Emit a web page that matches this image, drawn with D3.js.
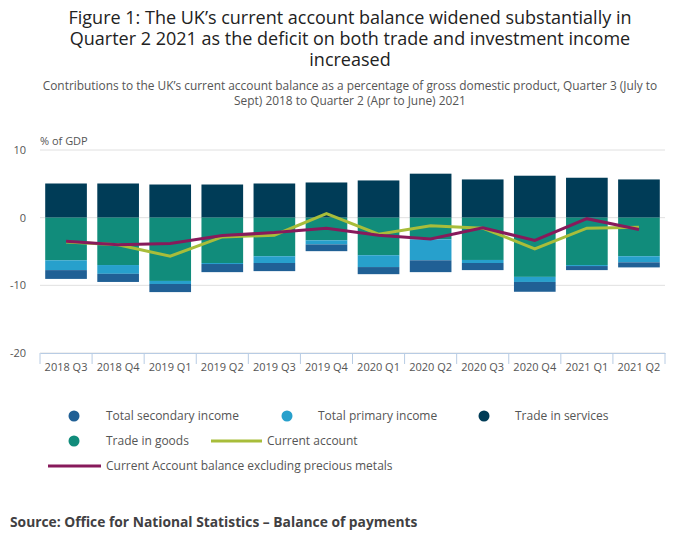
<!DOCTYPE html>
<html>
<head>
<meta charset="utf-8">
<script src="https://cdn.jsdelivr.net/npm/d3@7"></script>
<style>
  body { margin: 0; background: #fff; font-family: "Open Sans", sans-serif; }
</style>
</head>
<body>
<svg id="chart" width="700" height="549"></svg>
<script>
const quarters = ["2018 Q3", "2018 Q4", "2019 Q1", "2019 Q2", "2019 Q3", "2019 Q4",
  "2020 Q1", "2020 Q2", "2020 Q3", "2020 Q4", "2021 Q1", "2021 Q2"];
const tradeServices = [5.05, 5.05, 4.9, 4.9, 5.05, 5.2, 5.5, 6.5, 5.65, 6.2, 5.9, 5.65];
const tradeGoods = [-6.3, -7.0, -9.35, -6.7, -5.7, -3.35, -5.55, -3.2, -6.25, -8.75, -7.0, -5.7];
const primaryIncome = [-1.45, -1.3, -0.45, -0.15, -1.0, -0.6, -1.75, -3.1, -0.45, -0.75, -0.15, -0.9];
const secondaryIncome = [-1.3, -1.2, -1.2, -1.2, -1.2, -1.0, -1.05, -1.75, -1.05, -1.45, -0.6, -0.75];
const currentAccount = [-3.6, -4.0, -5.7, -2.85, -2.6, 0.6, -2.45, -1.2, -1.55, -4.6, -1.55, -1.4];
const exPrecious = [-3.5, -4.0, -3.8, -2.65, -2.2, -1.55, -2.6, -3.15, -1.5, -3.35, -0.15, -1.75];
const yTicks = [10, 0, -10, -20];

const svg = d3.select("#chart");
const margin = {left: 40, right: 35, top: 150, bottom: 196};
const width = 700 - margin.left - margin.right;
const height = 549 - margin.top - margin.bottom;

svg.append("text").attr("x", 350).attr("y", 24).attr("text-anchor", "middle")
  .attr("font-size", 18).attr("fill", "#222")
  .selectAll("tspan")
  .data(["Figure 1: The UK\u2019s current account balance widened substantially in",
    "Quarter 2 2021 as the deficit on both trade and investment income", "increased"])
  .join("tspan").attr("x", 350).attr("dy", (d, i) => i ? 21 : 0).text(d => d);

svg.append("text").attr("x", 350).attr("y", 90).attr("text-anchor", "middle")
  .attr("font-size", 11.9).attr("fill", "#555")
  .selectAll("tspan")
  .data(["Contributions to the UK\u2019s current account balance as a percentage of gross domestic product, Quarter 3 (July to",
    "Sept) 2018 to Quarter 2 (Apr to June) 2021"])
  .join("tspan").attr("x", 350).attr("dy", (d, i) => i ? 15 : 0).text(d => d);

const g = svg.append("g").attr("transform", `translate(${margin.left},${margin.top})`);

const x = d3.scaleBand().domain(quarters).range([0, width]).paddingInner(0.2).paddingOuter(0.1);
const xc = d3.scaleBand().domain(quarters).range([0, width]);
const y = d3.scaleLinear().domain([-20, 10]).range([height, 0]);

g.selectAll(".grid").data(yTicks).join("line")
  .attr("x1", 0).attr("x2", width)
  .attr("y1", d => y(d)).attr("y2", d => y(d))
  .attr("stroke", "#e0e0e0");

g.selectAll(".ylab").data(yTicks).join("text")
  .attr("x", -14).attr("y", d => y(d) + 4).attr("text-anchor", "end")
  .attr("font-size", 11).attr("fill", "#555").text(d => d);

g.append("text").attr("x", 0).attr("y", -5).attr("font-size", 11).attr("fill", "#555").text("% of GDP");

// stack: services upward, goods/primary/secondary downward from 0
const rects = [];
quarters.forEach((q, i) => {
  rects.push({q, y0: 0, y1: tradeServices[i], color: "#003c57"});
  let base = 0;
  [[tradeGoods, "#118c7b"], [primaryIncome, "#27a0cc"], [secondaryIncome, "#206095"]].forEach(([arr, c]) => {
    rects.push({q, y0: base, y1: base + arr[i], color: c});
    base += arr[i];
  });
});
g.selectAll(".bar").data(rects).join("rect")
  .attr("x", d => x(d.q)).attr("width", x.bandwidth())
  .attr("y", d => y(Math.max(d.y0, d.y1)))
  .attr("height", d => Math.abs(y(d.y0) - y(d.y1)))
  .attr("fill", d => d.color);

const line = d3.line().x((d, i) => xc(quarters[i]) + xc.bandwidth() / 2).y(d => y(d));
g.append("path").datum(currentAccount).attr("d", line)
  .attr("fill", "none").attr("stroke", "#a8bd3a").attr("stroke-width", 3);
g.append("path").datum(exPrecious).attr("d", line)
  .attr("fill", "none").attr("stroke", "#871a5b").attr("stroke-width", 3);

const xAxis = g.append("g").attr("transform", `translate(0,${height})`)
  .call(d3.axisBottom(xc).tickSize(0).tickPadding(10));
xAxis.select(".domain").attr("stroke", "#b8cce4");
xAxis.selectAll("text").attr("font-size", 11).attr("fill", "#555").attr("font-family", "Open Sans");
g.selectAll(".sep").data(d3.range(quarters.length + 1)).join("line")
  .attr("x1", i => i * xc.step()).attr("x2", i => i * xc.step())
  .attr("y1", height).attr("y2", height + 11).attr("stroke", "#b8cce4");

const leg = svg.append("g").attr("font-size", 12).attr("fill", "#555");
const circles = [
  {label: "Total secondary income", color: "#206095", cx: 74, tx: 106, y: 416},
  {label: "Total primary income", color: "#27a0cc", cx: 287, tx: 318, y: 416},
  {label: "Trade in services", color: "#003c57", cx: 484, tx: 515, y: 416},
  {label: "Trade in goods", color: "#118c7b", cx: 74, tx: 106, y: 441}
];
circles.forEach(d => {
  leg.append("circle").attr("cx", d.cx).attr("cy", d.y).attr("r", 5.5).attr("fill", d.color);
  leg.append("text").attr("x", d.tx).attr("y", d.y + 4).attr("fill", "#555").text(d.label);
});
const lines = [
  {label: "Current account", color: "#a8bd3a", x1: 211, x2: 262, tx: 267, y: 441},
  {label: "Current Account balance excluding precious metals", color: "#871a5b", x1: 48, x2: 101, tx: 106, y: 466}
];
lines.forEach(d => {
  leg.append("line").attr("x1", d.x1).attr("x2", d.x2).attr("y1", d.y).attr("y2", d.y)
    .attr("stroke", d.color).attr("stroke-width", 3);
  leg.append("text").attr("x", d.tx).attr("y", d.y + 4).attr("fill", "#555").text(d.label);
});

svg.append("text").attr("x", 10).attr("y", 527).attr("font-size", 13.8).attr("font-weight", "bold")
  .attr("fill", "#414042").text("Source: Office for National Statistics \u2013 Balance of payments");
</script>
</body>
</html>
